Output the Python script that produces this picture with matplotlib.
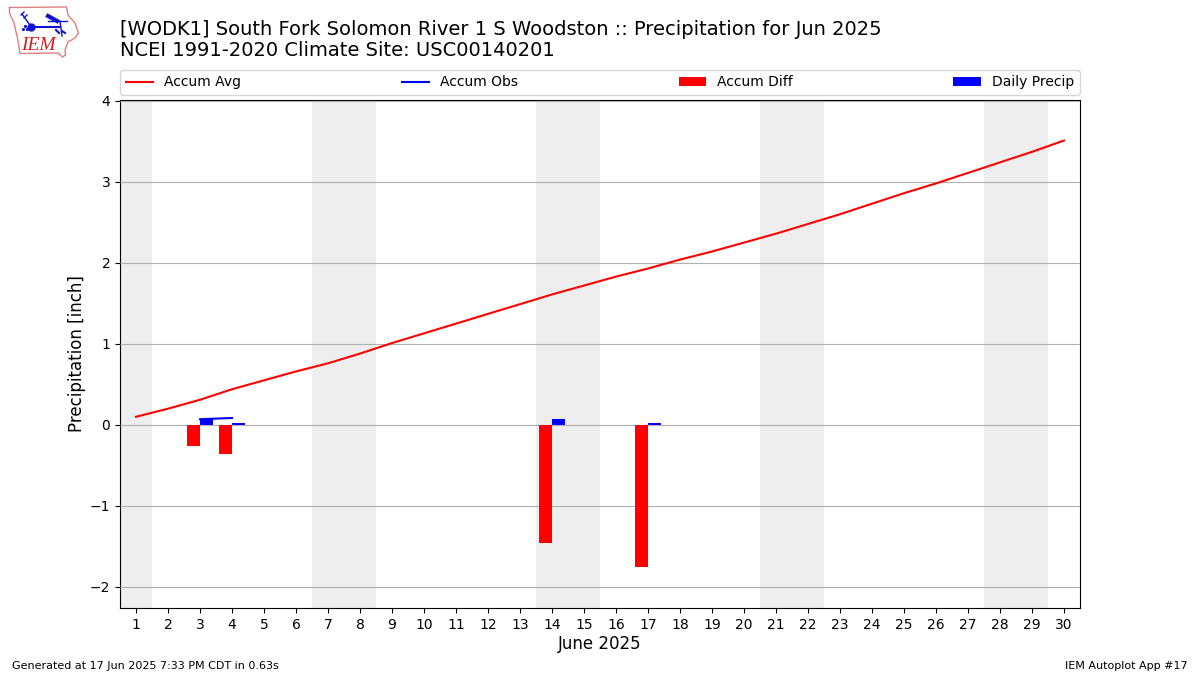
import matplotlib
matplotlib.use("Agg")
import matplotlib.pyplot as plt

days = list(range(1, 31))
accum_avg = [0.10, 0.20, 0.31, 0.44, 0.55, 0.66, 0.76, 0.88, 1.01, 1.13,
             1.25, 1.37, 1.49, 1.61, 1.72, 1.83, 1.93, 2.04, 2.14, 2.25,
             2.36, 2.48, 2.60, 2.73, 2.86, 2.98, 3.11, 3.24, 3.37, 3.51]
obs_days = [3, 4]
accum_obs = [0.07, 0.085]
precip_days = [3, 4, 14, 17]
daily_precip = [0.07, 0.02, 0.07, 0.02]
accum_diff = [-0.26, -0.36, -1.46, -1.75]
weekends = [(0.5, 1.5), (6.5, 8.5), (13.5, 15.5), (20.5, 22.5), (27.5, 29.5)]
yticks = [-2, -1, 0, 1, 2, 3, 4]

W, H = 1200, 675
fig = plt.figure(figsize=(12, 6.75), dpi=100)
ax = fig.add_axes([120 / W, 1 - 608 / H, 960 / W, 508 / H])

for start, end in weekends:
    ax.axvspan(start, end, color="#eeeeee", lw=0, zorder=1)

ax.bar([d - 0.2 for d in precip_days], accum_diff, width=0.4, color="r",
       label="Accum Diff", zorder=3)
ax.bar([d + 0.2 for d in precip_days], daily_precip, width=0.4, color="b",
       label="Daily Precip", zorder=3)
ax.plot(days, accum_avg, color="r", lw=1.5, label="Accum Avg", zorder=4)
ax.plot(obs_days, accum_obs, color="b", lw=1.5, label="Accum Obs", zorder=4)

ax.set_xlim(0.5, 30.5)
ax.set_ylim(-2.26, 4.01)
ax.set_xticks(days)
ax.set_yticks(yticks)
ax.grid(axis="y", color="#b0b0b0", lw=0.8, zorder=2)
ax.set_axisbelow(False)
ax.tick_params(labelsize=10)
ax.set_xlabel("June 2025", fontsize=12, labelpad=2.5)
ax.set_ylabel("Precipitation [inch]", fontsize=12, labelpad=3)

handles, labels = ax.get_legend_handles_labels()
order = [labels.index(n) for n in ["Accum Avg", "Accum Obs", "Accum Diff", "Daily Precip"]]
ax.legend([handles[i] for i in order], [labels[i] for i in order], ncol=4,
          mode="expand", loc="lower left", bbox_to_anchor=(0, 1 + 5 / 508, 1, 0.05),
          borderaxespad=0, fontsize=10)

fig.text(120 / W, 1 - 29.5 / H, "[WODK1] South Fork Solomon River 1 S Woodston :: Precipitation for Jun 2025",
         fontsize=14, va="center", ha="left")
fig.text(120 / W, 1 - 51 / H, "NCEI 1991-2020 Climate Site: USC00140201",
         fontsize=14, va="center", ha="left")
fig.text(12 / W, 1 - 666 / H, "Generated at 17 Jun 2025 7:33 PM CDT in 0.63s",
         fontsize=8, va="center", ha="left")
fig.text(1188 / W, 1 - 666 / H, "IEM Autoplot App #17",
         fontsize=8, va="center", ha="right")

# logo, drawn in pixel coordinates
logo = fig.add_axes([0, 1 - 62 / H, 84 / W, 62 / H])
logo.set_xlim(0, 84)
logo.set_ylim(62, 0)
logo.axis("off")
logo.plot([9.5, 66.5, 68, 75, 78.5, 75, 68, 65, 65.5, 62.5, 58, 20, 17.5, 14, 9.5, 9.5],
          [7.5, 7, 15, 23, 33, 38, 42, 50, 55, 57, 53, 53.5, 38, 23, 13, 7.5],
          color="#e08080", lw=1)
logo.plot([31, 60], [26.5, 26.5], color="#1010d0", lw=1.5)
logo.plot([60, 62], [21, 36], color="#1010d0", lw=1)
logo.plot([48, 67], [21, 21], color="#1010d0", lw=1)
logo.plot([22, 31], [14, 26.5], color="#1010d0", lw=1)
logo.plot([21, 24], [15, 12], color="#1010d0", lw=1)
logo.plot([24, 27], [18, 15], color="#1010d0", lw=1)
logo.plot([48, 57], [16, 21], color="#1010d0", lw=3)
logo.plot([56, 59], [30, 33], color="#1010d0", lw=1.5)
logo.plot([62, 65], [31, 33], color="#1010d0", lw=1.5)
logo.plot([31], [26.5], "o", color="#1010d0", ms=5)
logo.plot([23, 25, 27], [29, 26, 29], ".", color="#1010d0", ms=2.5)
logo.text(21, 45.5, "IEM", color="#d02020", family="Liberation Serif", style="italic",
          fontsize=14, va="center", ha="left")

fig.savefig("out.png", dpi=100)
